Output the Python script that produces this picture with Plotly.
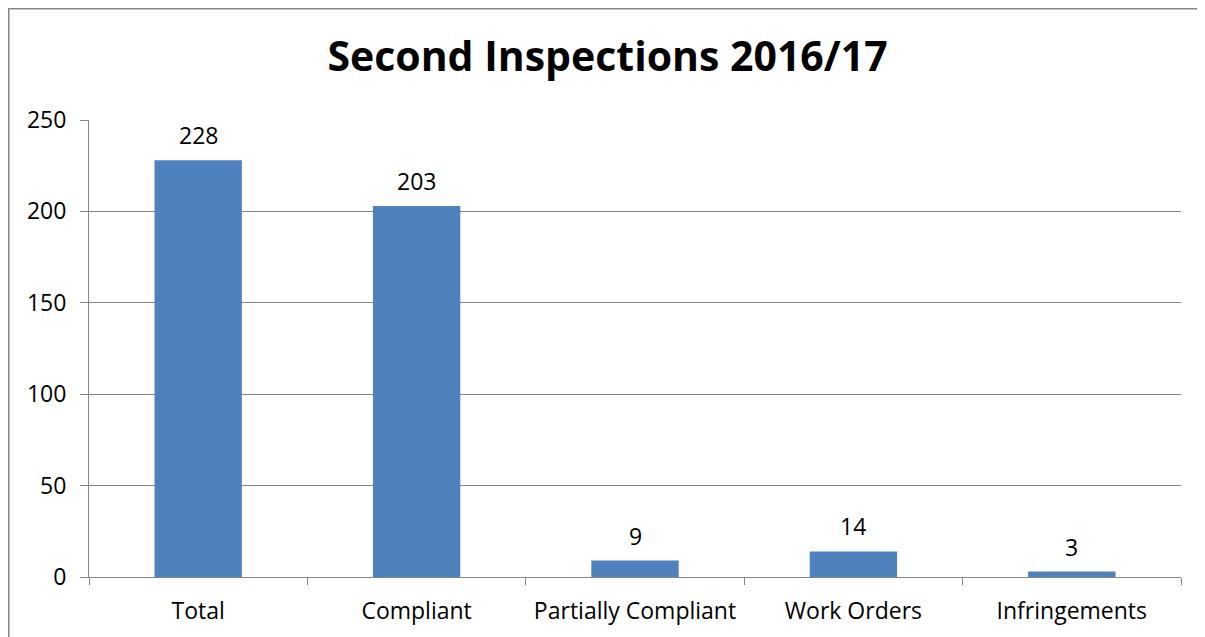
import plotly.graph_objects as go

categories = ["Total", "Compliant", "Partially Compliant", "Work Orders", "Infringements"]
values = [228, 203, 9, 14, 3]
y_ticks = [0, 50, 100, 150, 200, 250]

# page body has an 8px margin; figure is offset by (8, 8) on screen
W, H = 1197, 629
L, R, T, B = 81, 24, 112, 60
pw, ph = W - L - R, H - T - B
FONT = "Open Sans"
FS = 23

fig = go.Figure(go.Bar(
    x=categories, y=values, marker_color="#4F81BD", marker_line_width=0,
    hoverinfo="x+y",
))

for c, v in zip(categories, values):
    fig.add_annotation(x=c, y=v, text=str(v), showarrow=False, yanchor="middle",
                       yshift=25, font=dict(family=FONT, size=FS, color="#000000"))

fig.update_layout(
    width=W, height=H, margin=dict(l=L, r=R, t=T, b=B),
    paper_bgcolor="white", plot_bgcolor="white", bargap=0.6, showlegend=False,
    title=dict(text="<b>Second Inspections 2016/17</b>", x=(607.5 - 8) / W, xanchor="center",
               y=1 - 49 / H, yanchor="middle", yref="container",
               font=dict(family=FONT, size=41, color="#000000")),
    font=dict(family=FONT, size=FS, color="#000000"),
)
fig.update_yaxes(range=[0, 250], tickvals=y_ticks, showgrid=True, gridcolor="#868686",
                 gridwidth=1, showline=True, linecolor="#868686", linewidth=1,
                 ticks="outside", ticklen=8, tickcolor="#868686", zeroline=False,
                 ticklabelstandoff=9, tickfont=dict(family=FONT, size=FS))
fig.update_xaxes(showline=True, linecolor="#868686", linewidth=1, ticks="outside",
                 tickson="boundaries", ticklen=7, tickcolor="#868686",
                 ticklabelstandoff=13, tickfont=dict(family=FONT, size=FS))

fig.add_shape(type="rect", xref="paper", yref="paper",
              x0=(0.75 - L) / pw, x1=1.1, y0=-0.3, y1=(H - B - 0.75) / ph,
              line=dict(color="#868686", width=1.5), fillcolor="rgba(0,0,0,0)", layer="below")

fig.write_html("out.html")
